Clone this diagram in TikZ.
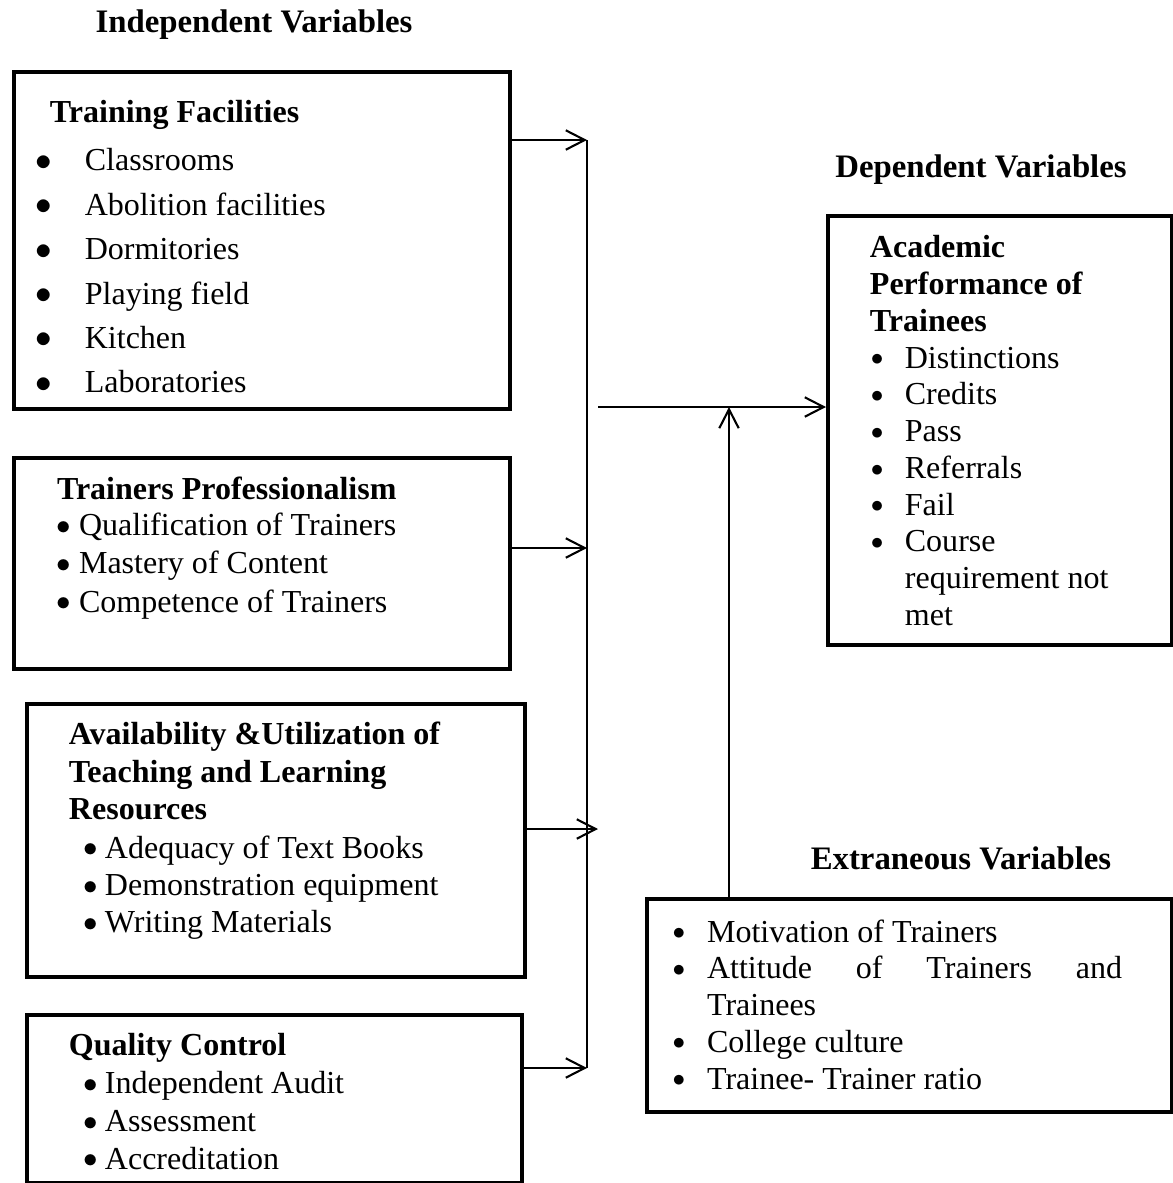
\documentclass[tikz,border=0pt]{standalone}
\usepackage{fontspec}
\setmainfont{Liberation Serif}
\usetikzlibrary{arrows.meta,calc}

\newlength\tl \newlength\bx \newlength\tx
\newcommand\bsc{1}
\newcommand\cfgbox[5]{\setlength\tl{#1}\setlength\bx{#2}\setlength\tx{#3}%
  \fontsize{12.2}{#4}\selectfont\parindent=0pt\renewcommand\bsc{#5}}
\newcommand\ttl[1]{{\par\leftskip=\tl\noindent\bfseries #1\par}}
\newcommand\itm[1]{\par\hangindent=\tx\hangafter=1\noindent
  \hspace*{\bx}\makebox[0pt]{$\vcenter{\hbox{\scalebox{\bsc}{$\bullet$}}}$}%
  \hspace*{\dimexpr\tx-\bx\relax}#1}

\begin{document}
\begin{tikzpicture}[x=0.381pt,y=-0.381pt,
  box/.style={draw, line width=1.5pt, anchor=north west, inner sep=0pt},
  head/.style={font=\fontsize{12.5}{14}\selectfont\bfseries},
  conn/.style={line width=.8pt},
  arr/.style={conn, -{Straight Barb[length=7.2pt,width=7.4pt]}}
]
  \useasboundingbox (0,0) rectangle (1173,1183);

  % headings
  \node[head] (hind) at (254,25) {Independent Variables};
  \node[head] (hdep) at (981,170) {Dependent Variables};
  \node[head] (hext) at (961,858) {Extraneous Variables};

  % independent variables
  \node[box] (tf) at (12,70) {\begin{minipage}[c][128.4pt][t]{189pt}
    \cfgbox{13.7pt}{11.4pt}{27pt}{16.9pt}{1.05}
    \ttl{\rule{0pt}{19.4pt}Training Facilities}\vspace{1.4pt}
    \itm{Classrooms}
    \itm{Abolition facilities}
    \itm{Dormitories}
    \itm{Playing field}
    \itm{Kitchen}
    \itm{Laboratories}
  \end{minipage}};
  \node[box] (tp) at (12,456) {\begin{minipage}[c][80.4pt][t]{189pt}
    \cfgbox{16.4pt}{18.9pt}{24.8pt}{14.5pt}{0.92}
    \ttl{\rule{0pt}{16pt}Trainers Professionalism}\vspace{-0.8pt}
    \itm{Qualification of Trainers}
    \itm{Mastery of Content}
    \itm{Competence of Trainers}
  \end{minipage}};
  \node[box] (au) at (25,702) {\begin{minipage}[c][104pt][t]{189.7pt}
    \cfgbox{16pt}{24.3pt}{29.7pt}{14.2pt}{0.92}
    \ttl{\rule{0pt}{15.6pt}Availability \&Utilization of\\Teaching and Learning\\Resources}\vspace{0.6pt}
    \itm{Adequacy of Text Books}
    \itm{Demonstration equipment}
    \itm{Writing Materials}
  \end{minipage}};
  \node[box] (qc) at (25,1013) {\begin{minipage}[c][64pt][t]{188.6pt}
    \cfgbox{16pt}{24.3pt}{29.7pt}{14.4pt}{0.92}
    \ttl{\rule{0pt}{15.6pt}Quality Control}
    \itm{Independent Audit}
    \itm{Assessment}
    \itm{Accreditation}
  \end{minipage}};

  % dependent variables
  \node[box] (ap) at (826,214) {\begin{minipage}[c][163.4pt][t]{131.1pt}
    \cfgbox{16pt}{18.7pt}{29.3pt}{14pt}{0.8}
    \ttl{\rule{0pt}{16pt}Academic\\Performance of\\Trainees}
    \itm{Distinctions}
    \itm{Credits}
    \itm{Pass}
    \itm{Referrals}
    \itm{Fail}
    \itm{Course\\requirement not\\met}
  \end{minipage}};

  % extraneous variables
  \node[box] (ev) at (645,897) {\begin{minipage}[c][81.2pt][t]{200pt}
    \cfgbox{0pt}{12.2pt}{22.9pt}{14pt}{0.8}\rightskip=19pt
    \itm{\rule{0pt}{16.4pt}Motivation of Trainers}
    \itm{Attitude of Trainers and\linebreak Trainees}
    \itm{College culture}
    \itm{Trainee- Trainer ratio}
  \end{minipage}};

  % connectors
  \coordinate (j1) at (587,140);
  \coordinate (j2) at (587,548);
  \coordinate (j3) at (598,829);
  \coordinate (j4) at (587,1068);
  \coordinate (out) at (598,407);
  \coordinate (m) at (729,407);
  \draw[conn] (j1) -- (j4);
  \draw[arr] (tf.east |- j1) -- (j1);
  \draw[arr] (tp.east |- j2) -- (j2);
  \draw[arr] (au.east |- j3) -- (j3);
  \draw[arr] (qc.east |- j4) -- (j4);
  \draw[arr] (out) -- (ap.west |- out);
  \draw[arr] (ev.north -| m) -- (m);
\end{tikzpicture}
\end{document}
